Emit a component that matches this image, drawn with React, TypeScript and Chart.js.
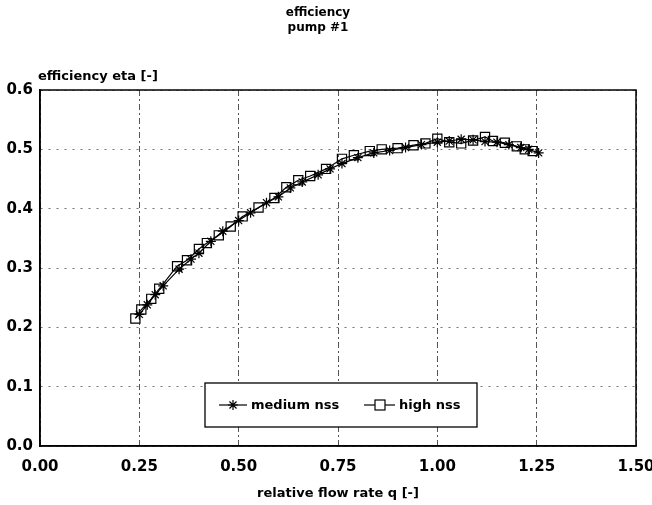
import React, { useEffect, useRef } from "react";
import { Chart, registerables } from "chart.js";

Chart.register(...registerables);

const titleLines = ["efficiency", "pump #1"];
const yAxisTitle = "efficiency eta [-]";
const xAxisTitle = "relative flow rate q [-]";
const seriesNames = ["medium nss", "high nss"];

const mediumQ = [0.25, 0.27, 0.29, 0.31, 0.35, 0.38, 0.40, 0.43, 0.46, 0.50, 0.53, 0.57, 0.60, 0.63, 0.66, 0.70, 0.73, 0.76, 0.80, 0.84, 0.88, 0.92, 0.96, 1.00, 1.03, 1.06, 1.09, 1.12, 1.15, 1.18, 1.21, 1.23, 1.255];
const mediumEta = [0.222, 0.238, 0.255, 0.27, 0.298, 0.315, 0.325, 0.345, 0.362, 0.38, 0.393, 0.41, 0.42, 0.435, 0.445, 0.457, 0.467, 0.476, 0.486, 0.494, 0.498, 0.503, 0.508, 0.512, 0.514, 0.517, 0.516, 0.513, 0.512, 0.508, 0.503, 0.50, 0.494];

const highQ = [0.24, 0.255, 0.28, 0.30, 0.345, 0.37, 0.40, 0.42, 0.45, 0.48, 0.51, 0.55, 0.59, 0.62, 0.65, 0.68, 0.72, 0.76, 0.79, 0.83, 0.86, 0.90, 0.94, 0.97, 1.00, 1.03, 1.06, 1.09, 1.12, 1.14, 1.17, 1.20, 1.22, 1.24];
const highEta = [0.215, 0.230, 0.248, 0.265, 0.303, 0.313, 0.332, 0.342, 0.355, 0.37, 0.387, 0.402, 0.418, 0.436, 0.448, 0.455, 0.467, 0.484, 0.49, 0.497, 0.50, 0.502, 0.507, 0.510, 0.518, 0.512, 0.510, 0.515, 0.521, 0.514, 0.511, 0.505, 0.50, 0.497];

const FONT = "'DejaVu Sans', sans-serif";

const framePlugin = {
  id: "frameAndLegend",
  afterDraw(chart: any) {
    const { ctx, chartArea } = chart;
    ctx.save();
    ctx.strokeStyle = "#000";
    ctx.lineWidth = 1.5;
    ctx.strokeRect(chartArea.left, chartArea.top, chartArea.right - chartArea.left, chartArea.bottom - chartArea.top);
    ctx.fillStyle = "#000";
    ctx.font = `bold 13px ${FONT}`;
    ctx.textAlign = "left";
    ctx.textBaseline = "middle";
    ctx.fillText(yAxisTitle, chartArea.left - 2, chartArea.top - 13);
    const bx = 205, by = 383, bw = 272, bh = 44;
    ctx.fillStyle = "#fff";
    ctx.fillRect(bx, by, bw, bh);
    ctx.strokeStyle = "#000";
    ctx.lineWidth = 1.3;
    ctx.strokeRect(bx, by, bw, bh);
    const cy = by + bh / 2;
    ctx.lineWidth = 1.2;
    ctx.beginPath();
    ctx.moveTo(219, cy);
    ctx.lineTo(247, cy);
    ctx.stroke();
    const ax = 233, r = 5;
    ctx.beginPath();
    ctx.moveTo(ax - r, cy); ctx.lineTo(ax + r, cy);
    ctx.moveTo(ax, cy - r); ctx.lineTo(ax, cy + r);
    const d = r * 0.707;
    ctx.moveTo(ax - d, cy - d); ctx.lineTo(ax + d, cy + d);
    ctx.moveTo(ax - d, cy + d); ctx.lineTo(ax + d, cy - d);
    ctx.stroke();
    ctx.fillStyle = "#000";
    ctx.font = `bold 13px ${FONT}`;
    ctx.fillText(seriesNames[0], 251, cy + 1);
    ctx.beginPath();
    ctx.moveTo(364, cy);
    ctx.lineTo(395, cy);
    ctx.stroke();
    ctx.fillStyle = "#fff";
    ctx.fillRect(375, cy - 5, 10, 10);
    ctx.strokeRect(375, cy - 5, 10, 10);
    ctx.fillStyle = "#000";
    ctx.fillText(seriesNames[1], 399, cy + 1);
    ctx.restore();
  },
};

export default function App() {
  const ref = useRef<HTMLCanvasElement>(null);
  useEffect(() => {
    document.body.style.margin = "0";
    if (!ref.current) return;
    const chart = new Chart(ref.current, {
      type: "line",
      data: {
        datasets: [
          {
            label: seriesNames[0],
            data: mediumQ.map((q, i) => ({ x: q, y: mediumEta[i] })),
            borderColor: "#000",
            borderWidth: 1.2,
            pointStyle: "star",
            pointRadius: 5,
            pointBorderColor: "#000",
            pointBorderWidth: 1.2,
            pointBackgroundColor: "transparent",
            tension: 0,
            fill: false,
          },
          {
            label: seriesNames[1],
            data: highQ.map((q, i) => ({ x: q, y: highEta[i] })),
            borderColor: "#000",
            borderWidth: 1.2,
            pointStyle: "rect",
            pointRadius: 6.5,
            pointBorderColor: "#000",
            pointBorderWidth: 1.2,
            pointBackgroundColor: "transparent",
            tension: 0,
            fill: false,
          },
        ],
      },
      options: {
        animation: false,
        responsive: false,
        devicePixelRatio: 1,
        layout: { padding: { left: 0, right: 16, top: 0, bottom: 0 } },
        plugins: {
          legend: { display: false },
          tooltip: { enabled: false },
          title: {
            display: true,
            text: titleLines,
            color: "#000",
            font: { family: FONT, size: 12, weight: "bold", lineHeight: 1.2 },
            padding: { top: 6, bottom: 55.2 },
          },
        },
        scales: {
          x: {
            type: "linear",
            min: 0,
            max: 1.5,
            afterFit: (s: any) => {
              s.height = 59;
              s.paddingRight = 16;
              s.paddingLeft = 0;
            },
            ticks: {
              stepSize: 0.25,
              color: "#000",
              padding: 12,
              maxRotation: 0,
              font: { family: FONT, size: 15, weight: "bold" },
              callback: (v: any) => Number(v).toFixed(2),
            },
            grid: {
              color: "#555",
              lineWidth: 1,
              drawTicks: false,
            },
            border: { display: true, color: "#000", width: 1.5, dash: [6, 3, 2, 3] },
            title: {
              display: true,
              text: xAxisTitle,
              color: "#000",
              font: { family: FONT, size: 13, weight: "bold" },
              padding: { top: 4, bottom: 4 },
            },
          },
          y: {
            type: "linear",
            min: 0,
            max: 0.6,
            afterFit: (s: any) => { s.width = 40; },
            ticks: {
              stepSize: 0.1,
              color: "#000",
              padding: 7,
              font: { family: FONT, size: 15, weight: "bold" },
              callback: (v: any) => Number(v).toFixed(1),
            },
            grid: {
              color: "#777",
              lineWidth: 1,
              drawTicks: false,
            },
            border: { display: true, color: "#000", width: 1.5, dash: [2, 6] },
          },
        },
      },
      plugins: [framePlugin],
    });
    return () => chart.destroy();
  }, []);
  return (
    <div style={{ width: 652, height: 505 }}>
      <canvas ref={ref} width={652} height={505} style={{ display: "block" }} />
    </div>
  );
}
